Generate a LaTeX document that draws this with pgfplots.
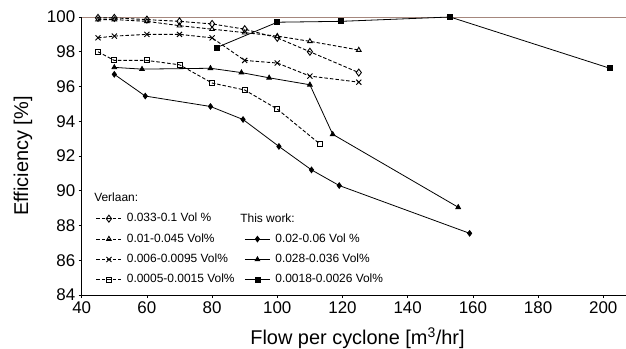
\documentclass[border=0pt]{standalone}
\usepackage{fontspec}
\setmainfont{Liberation Sans}
\usepackage{pgfplots}
\pgfplotsset{compat=1.18}
\definecolor{topline}{RGB}{165,135,125}
\begin{document}
\begin{tikzpicture}
\begin{axis}[
  scale only axis,
  width=544.4bp, height=278bp,
  xmin=40, xmax=207, ymin=84, ymax=100,
  axis lines*=left,
  axis line style={line width=0.8bp},
  xtick={40,60,...,200}, ytick={84,86,...,100},
  tick align=outside, major tick length=3bp,
  tick style={line width=0.7bp, black},
  /pgf/number format/assume math mode=true,
  tick label style={font=\fontsize{17}{20}\selectfont},
  xlabel={Flow per cyclone [m\textsuperscript{3}/hr]},
  ylabel={Efficiency [\%]},
  every axis x label/.style={at={(axis description cs:0.5066,0)}, anchor=center, yshift=-43bp, font=\fontsize{20}{24}\selectfont},
  every axis y label/.style={at={(axis description cs:-0.1078,0.5)}, anchor=center, rotate=90, font=\fontsize{20}{24}\selectfont},
  clip=false,
  legend columns=2,
  legend image code/.code={\draw[mark repeat=2,mark phase=2,#1] plot coordinates {(0bp,0bp) (12.5bp,0bp) (25bp,0bp)};},
  legend style={draw=none, fill=none, at={(axis cs:43.4,88.95)}, anchor=north west,
    font=\fontsize{12}{14}\selectfont, row sep=5.4bp,
    nodes={inner sep=2bp, text height=8.5bp, text depth=2.5bp},
    /tikz/every even column/.append style={column sep=8bp},
    /tikz/every odd column/.append style={column sep=3bp}},
  legend cell align=left,
]
\draw[topline, line width=0.7bp] (axis cs:40,100) -- (axis cs:207,100);
% Verlaan
\addplot[black, line width=0.9bp, dash pattern=on 3.5bp off 2bp, mark=diamond, mark size=3.5bp, mark options={solid, fill=white}, forget plot]
  coordinates {(45,99.95) (50,99.95) (60,99.85) (70,99.75) (80,99.6) (90,99.3) (100,98.8) (110,98.0) (125,96.8)};
\addplot[black, line width=0.9bp, dash pattern=on 3.5bp off 2bp, mark=triangle, mark size=2.7bp, mark options={solid, fill=white}, forget plot]
  coordinates {(45,99.85) (50,99.85) (60,99.75) (70,99.5) (80,99.3) (90,99.1) (100,98.9) (110,98.6) (125,98.1)};
\addplot[black, line width=0.9bp, dash pattern=on 3.5bp off 2bp, mark=x, mark size=3.6bp, mark options={solid}, forget plot]
  coordinates {(45,98.8) (50,98.9) (60,99.0) (70,99.0) (80,98.8) (90,97.5) (100,97.35) (110,96.6) (125,96.25)};
\addplot[black, line width=0.9bp, dash pattern=on 3.5bp off 2bp, mark=square, mark size=2.5bp, mark options={solid, fill=white}, forget plot]
  coordinates {(45,98.0) (50,97.5) (60,97.5) (70,97.25) (80,96.2) (90,95.8) (100,94.7) (113,92.7)};
% This work
\addplot[black, line width=0.8bp, mark=diamond*, mark size=2.8bp, mark options={solid}, forget plot]
  coordinates {(50,96.7) (59.5,95.45) (79.5,94.85) (89.5,94.1) (100.5,92.55) (110.5,91.2) (119,90.3) (159,87.55)};
\addplot[black, line width=0.8bp, mark=triangle*, mark size=2.7bp, mark options={solid}, forget plot]
  coordinates {(50,97.1) (58.5,97.0) (79.5,97.05) (89,96.8) (97.5,96.5) (110,96.1) (117,93.25) (155.5,89.05)};
\addplot[black, line width=0.8bp, mark=square*, mark size=2.5bp, mark options={solid}, forget plot]
  coordinates {(81.5,98.25) (100,99.7) (119.5,99.75) (153,100) (202,97.05)};
% legend
\addlegendimage{black, line width=0.9bp, dash pattern=on 3.5bp off 2bp, mark=diamond, mark size=3.5bp, mark options={solid, fill=white}}
\addlegendentry{0.033-0.1 Vol \%}
\addlegendimage{empty legend}
\addlegendentry{}
\addlegendimage{black, line width=0.9bp, dash pattern=on 3.5bp off 2bp, mark=triangle, mark size=2.7bp, mark options={solid, fill=white}}
\addlegendentry{0.01-0.045 Vol\%}
\addlegendimage{black, line width=0.8bp, mark=diamond*, mark size=2.8bp}
\addlegendentry{0.02-0.06 Vol \%}
\addlegendimage{black, line width=0.9bp, dash pattern=on 3.5bp off 2bp, mark=x, mark size=3.6bp, mark options={solid}}
\addlegendentry{0.006-0.0095 Vol\%}
\addlegendimage{black, line width=0.8bp, mark=triangle*, mark size=2.7bp}
\addlegendentry{0.028-0.036 Vol\%}
\addlegendimage{black, line width=0.9bp, dash pattern=on 3.5bp off 2bp, mark=square, mark size=2.5bp, mark options={solid, fill=white}}
\addlegendentry{0.0005-0.0015 Vol\%}
\addlegendimage{black, line width=0.8bp, mark=square*, mark size=2.5bp}
\addlegendentry{0.0018-0.0026 Vol\%}
\node[anchor=west, inner sep=0pt, font=\fontsize{12}{14}\selectfont] at (axis cs:43.8,89.64) {Verlaan:};
\node[anchor=west, inner sep=0pt, font=\fontsize{12}{14}\selectfont] at (axis cs:88.6,88.43) {This work:};
\end{axis}
\pgfresetboundingbox
\path[use as bounding box] (-81.7bp,-54bp) rectangle (544.3bp,295bp);
\end{tikzpicture}
\end{document}
